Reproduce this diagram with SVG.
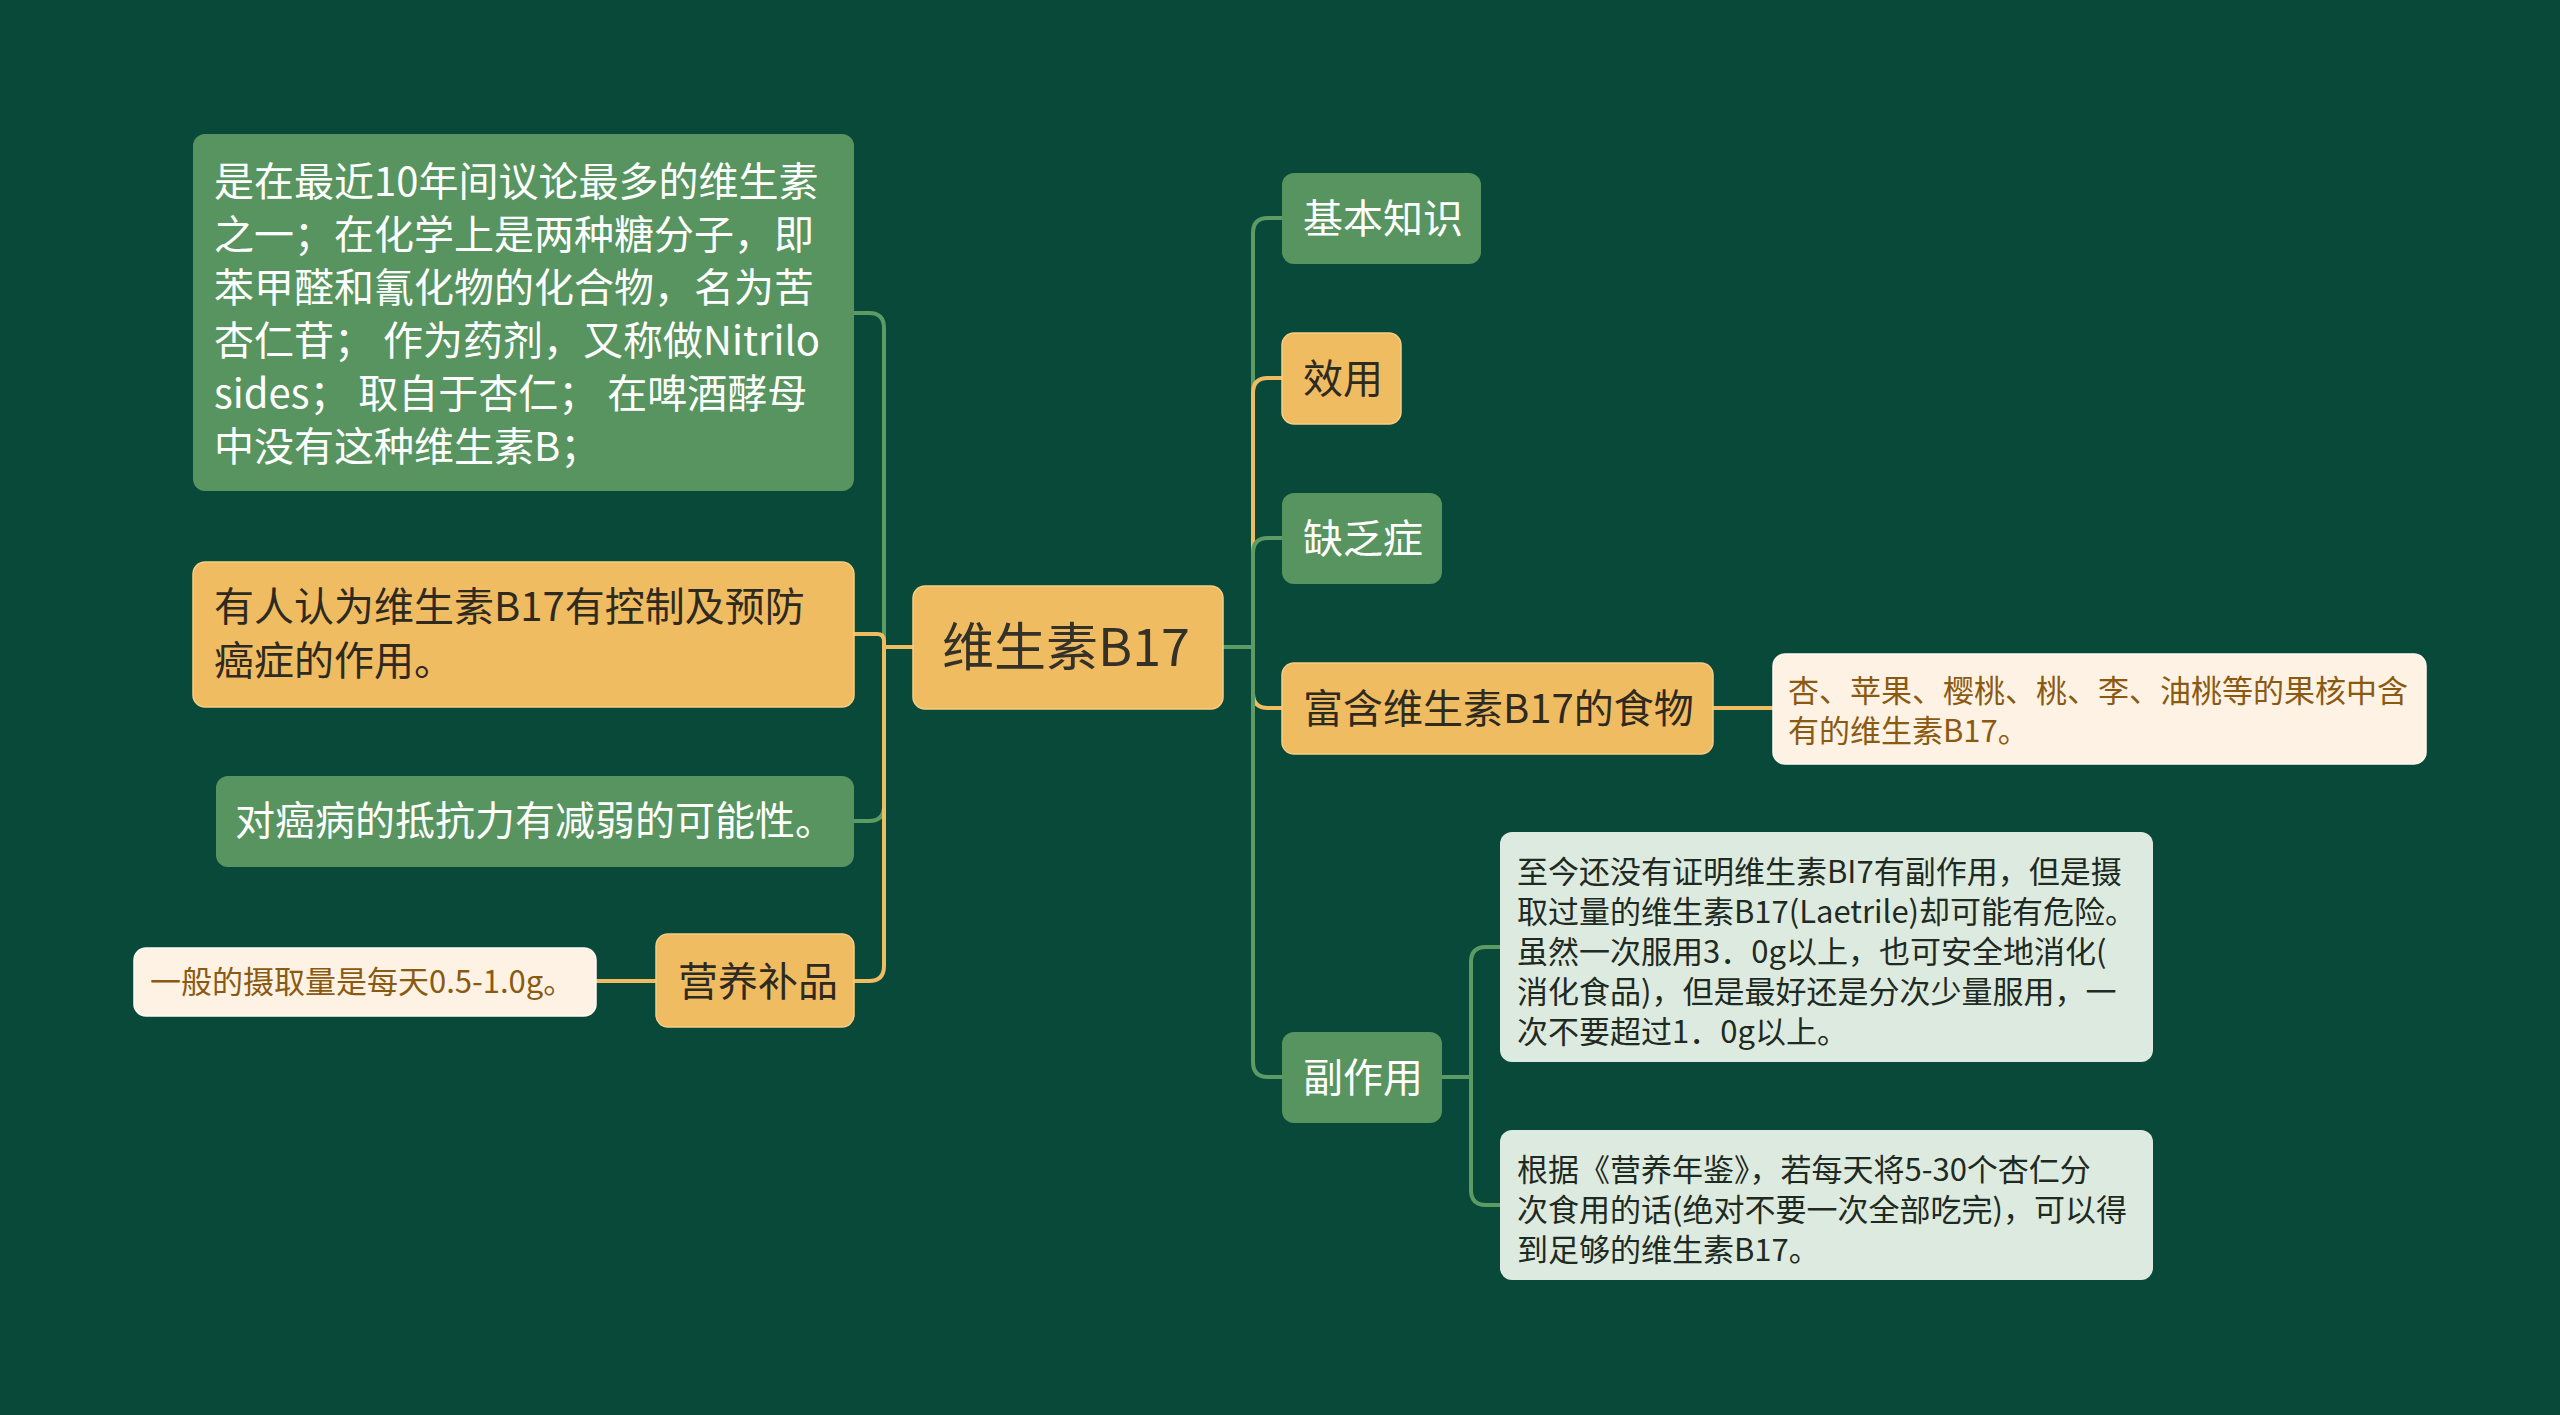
<svg xmlns="http://www.w3.org/2000/svg" width="2560" height="1415" viewBox="0 0 2560 1415">
<style>
.t{font-family:"Noto Sans CJK SC","Noto Sans",sans-serif}
.g{fill:#589460}
.o{fill:#f0bc62;stroke:#f6cd82;stroke-width:1.5}
.c{fill:#fdf2e3;stroke:#fffaf2;stroke-width:1.5}
.l{fill:#ddeae0}
.wt{fill:#ffffff;font-size:40px}
.dt{fill:#2e2a1f;font-size:40px}
.bt{fill:#8a5a12;font-size:31px}
.lt{fill:#1f2a22;font-size:31px}
.cg{fill:none;stroke:#5c9c64;stroke-width:4}
.co{fill:none;stroke:#f0bc62;stroke-width:4}
</style>
<rect width="2560" height="1415" fill="#08493a"/>
<g id="connectors">
<path class="cg" d="M913,647 H884 V328 Q884,313 869,313 H854"/>
<path class="co" d="M913,647 H884 V641 Q884,634 877,634 H854"/>
<path class="cg" d="M913,647 H884 V806 Q884,821 869,821 H854"/>
<path class="co" d="M913,647 H884 V966 Q884,981 869,981 H854"/>
<path class="co" d="M656,981 H596"/>
<path class="cg" d="M1223,647 H1253 V233 Q1253,218 1268,218 H1282"/>
<path class="co" d="M1223,647 H1253 V393 Q1253,378 1268,378 H1282"/>
<path class="cg" d="M1223,647 H1253 V553 Q1253,538 1268,538 H1282"/>
<path class="co" d="M1223,647 H1253 V693 Q1253,708 1268,708 H1282"/>
<path class="cg" d="M1223,647 H1253 V1062 Q1253,1077 1268,1077 H1282"/>
<path class="co" d="M1713,708 H1773"/>
<path class="cg" d="M1442,1077 H1471 V962 Q1471,947 1486,947 H1500"/>
<path class="cg" d="M1442,1077 H1471 V1190 Q1471,1205 1486,1205 H1500"/>
</g>
<g id="root">
<rect class="o" x="913" y="586" width="310" height="123" rx="12"/>
<text class="t" x="942" y="666" font-size="52" fill="#333128">维生素B17</text>
</g>
<g id="n-intro">
<rect class="g" x="193" y="134" width="661" height="357" rx="12"/>
<text class="t wt"><tspan x="214" y="196">是在最近10年间议论最多的维生素</tspan><tspan x="214" y="249">之一；在化学上是两种糖分子，即</tspan><tspan x="214" y="302">苯甲醛和氰化物的化合物，名为苦</tspan><tspan x="214" y="355">杏仁苷； 作为药剂，又称做Nitrilo</tspan><tspan x="214" y="408">sides； 取自于杏仁； 在啤酒酵母</tspan><tspan x="214" y="461">中没有这种维生素B；</tspan></text>
</g>
<g id="n-control">
<rect class="o" x="193" y="562" width="661" height="145" rx="12"/>
<text class="t dt"><tspan x="214" y="621">有人认为维生素B17有控制及预防</tspan><tspan x="214" y="675">癌症的作用。</tspan></text>
</g>
<g id="n-resist">
<rect class="g" x="216" y="776" width="638" height="91" rx="12"/>
<text class="t wt" x="235" y="835">对癌病的抵抗力有减弱的可能性。</text>
</g>
<g id="n-supp">
<rect class="o" x="656" y="934" width="198" height="93" rx="12"/>
<text class="t dt" x="678" y="996">营养补品</text>
</g>
<g id="n-dose">
<rect class="c" x="134" y="948" width="462" height="68" rx="12"/>
<text class="t bt" x="150" y="993" font-size="30">一般的摄取量是每天0.5-1.0g。</text>
</g>
<g id="n-basic">
<rect class="g" x="1282" y="173" width="199" height="91" rx="12"/>
<text class="t wt" x="1303" y="233">基本知识</text>
</g>
<g id="n-effect">
<rect class="o" x="1282" y="333" width="119" height="91" rx="12"/>
<text class="t dt" x="1303" y="393">效用</text>
</g>
<g id="n-lack">
<rect class="g" x="1282" y="493" width="160" height="91" rx="12"/>
<text class="t wt" x="1303" y="553">缺乏症</text>
</g>
<g id="n-food">
<rect class="o" x="1282" y="663" width="431" height="91" rx="12"/>
<text class="t dt" x="1303" y="723">富含维生素B17的食物</text>
</g>
<g id="n-food-note">
<rect class="c" x="1773" y="654" width="653" height="110" rx="12"/>
<text class="t bt"><tspan x="1788" y="702">杏、苹果、樱桃、桃、李、油桃等的果核中含</tspan><tspan x="1788" y="742">有的维生素B17。</tspan></text>
</g>
<g id="n-side">
<rect class="g" x="1282" y="1032" width="160" height="91" rx="12"/>
<text class="t wt" x="1303" y="1092">副作用</text>
</g>
<g id="n-side-1">
<rect class="l" x="1500" y="832" width="653" height="230" rx="12"/>
<text class="t lt"><tspan x="1517" y="883">至今还没有证明维生素BI7有副作用，但是摄</tspan><tspan x="1517" y="923">取过量的维生素B17(Laetrile)却可能有危险。</tspan><tspan x="1517" y="963">虽然一次服用3．0g以上，也可安全地消化(</tspan><tspan x="1517" y="1003">消化食品)，但是最好还是分次少量服用，一</tspan><tspan x="1517" y="1043">次不要超过1．0g以上。</tspan></text>
</g>
<g id="n-side-2">
<rect class="l" x="1500" y="1130" width="653" height="150" rx="12"/>
<text class="t lt"><tspan x="1517" y="1181">根据《营养年鉴》，若每天将5-30个杏仁分</tspan><tspan x="1517" y="1221">次食用的话(绝对不要一次全部吃完)，可以得</tspan><tspan x="1517" y="1261">到足够的维生素B17。</tspan></text>
</g>
</svg>
